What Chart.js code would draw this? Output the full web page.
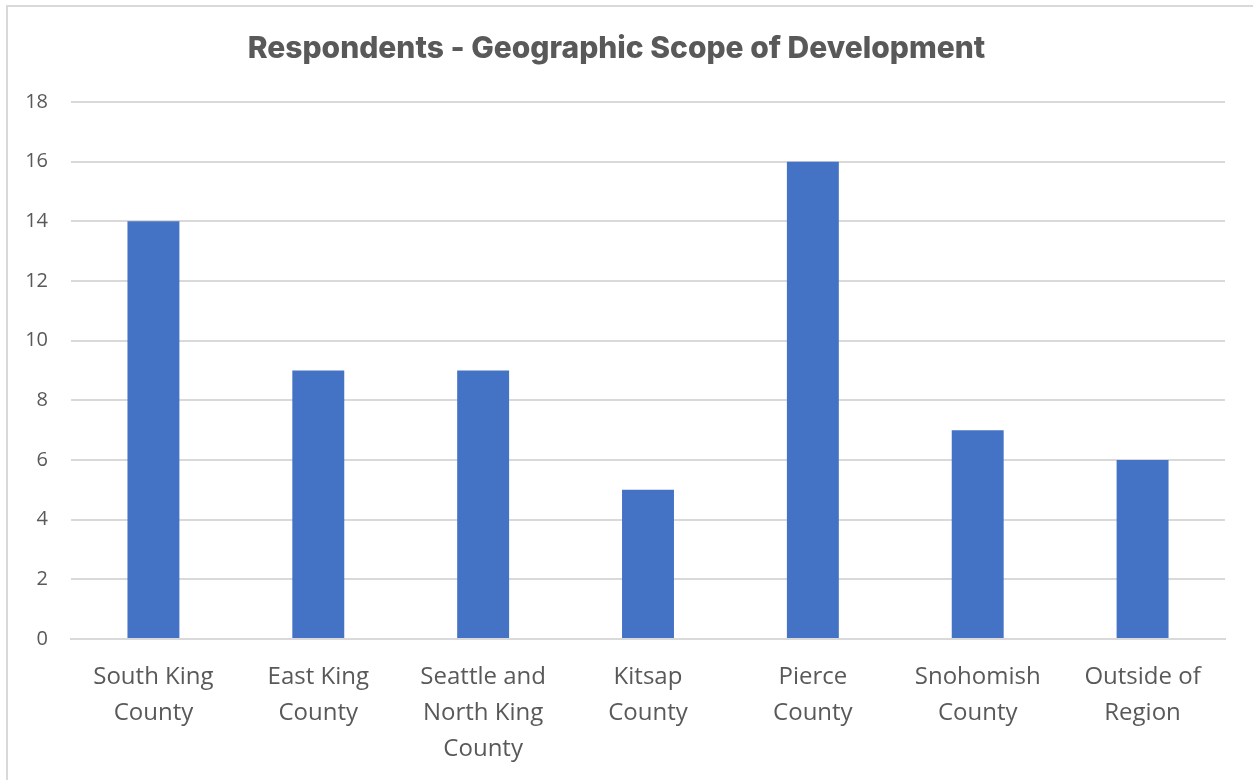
<!DOCTYPE html>
<html>
<head>
<meta charset="utf-8">
<script src="https://cdn.jsdelivr.net/npm/chart.js@4"></script>
<style>
  html, body { margin: 0; padding: 0; background: #fff; }
  .frame {
    position: absolute; left: 6px; top: 5px; width: 1260px; height: 800px;
    border-top: 2px solid #d9d9d9; border-left: 2px solid #d9d9d9;
  }
  #wrap { position: absolute; left: 0; top: 0; width: 1253px; height: 780px; }
</style>
</head>
<body>
<div class="frame"></div>
<div id="wrap"><canvas id="geo-chart"></canvas></div>
<script>
// categories and respondent counts
const categories = [
    ['South King', 'County'],
    ['East King', 'County'],
    ['Seattle and', 'North King', 'County'],
    ['Kitsap', 'County'],
    ['Pierce', 'County'],
    ['Snohomish', 'County'],
    ['Outside of', 'Region']
];
const respondents = [14, 9, 9, 5, 16, 7, 6];
const yTicks = [0, 2, 4, 6, 8, 10, 12, 14, 16, 18];

const ctx = document.getElementById('geo-chart');

new Chart(ctx, {
    type: 'bar',
    data: {
        labels: categories,
        datasets: [
            {
                label: 'Respondents',
                data: respondents,
                backgroundColor: '#4472C4',
                barPercentage: 0.315,
                categoryPercentage: 1
            }
        ]
    },
    options: {
        responsive: true,
        maintainAspectRatio: false,
        animation: false,
        layout: { padding: { left: 8, right: 28, top: 0, bottom: 0 } },
        plugins: {
            legend: { display: false },
            tooltip: { enabled: false },
            title: {
                display: true,
                text: 'Respondents - Geographic Scope of Development',
                color: '#595959',
                font: { family: 'Inter', size: 30, weight: '800' },
                padding: { top: 31, bottom: 35 }
            }
        },
        scales: {
            x: {
                grid: { display: false, drawTicks: false },
                border: { color: '#d9d9d9', width: 2 },
                ticks: {
                    color: '#595959',
                    font: { family: 'Open Sans', size: 24, lineHeight: 1.5 },
                    padding: 20,
                    maxRotation: 0,
                    autoSkip: false
                },
                afterFit: (scale) => { scale.height = 141; }
            },
            y: {
                min: 0,
                max: 18,
                afterBuildTicks: (scale) => { scale.ticks = yTicks.map(v => ({ value: v })); },
                grid: { color: '#d9d9d9', lineWidth: 2, drawTicks: false },
                border: { display: false },
                ticks: {
                    color: '#595959',
                    font: { family: 'Open Sans', size: 20 },
                    padding: 23
                },
                afterFit: (scale) => { scale.width = 63; }
            }
        }
    }
});
</script>
</body>
</html>
